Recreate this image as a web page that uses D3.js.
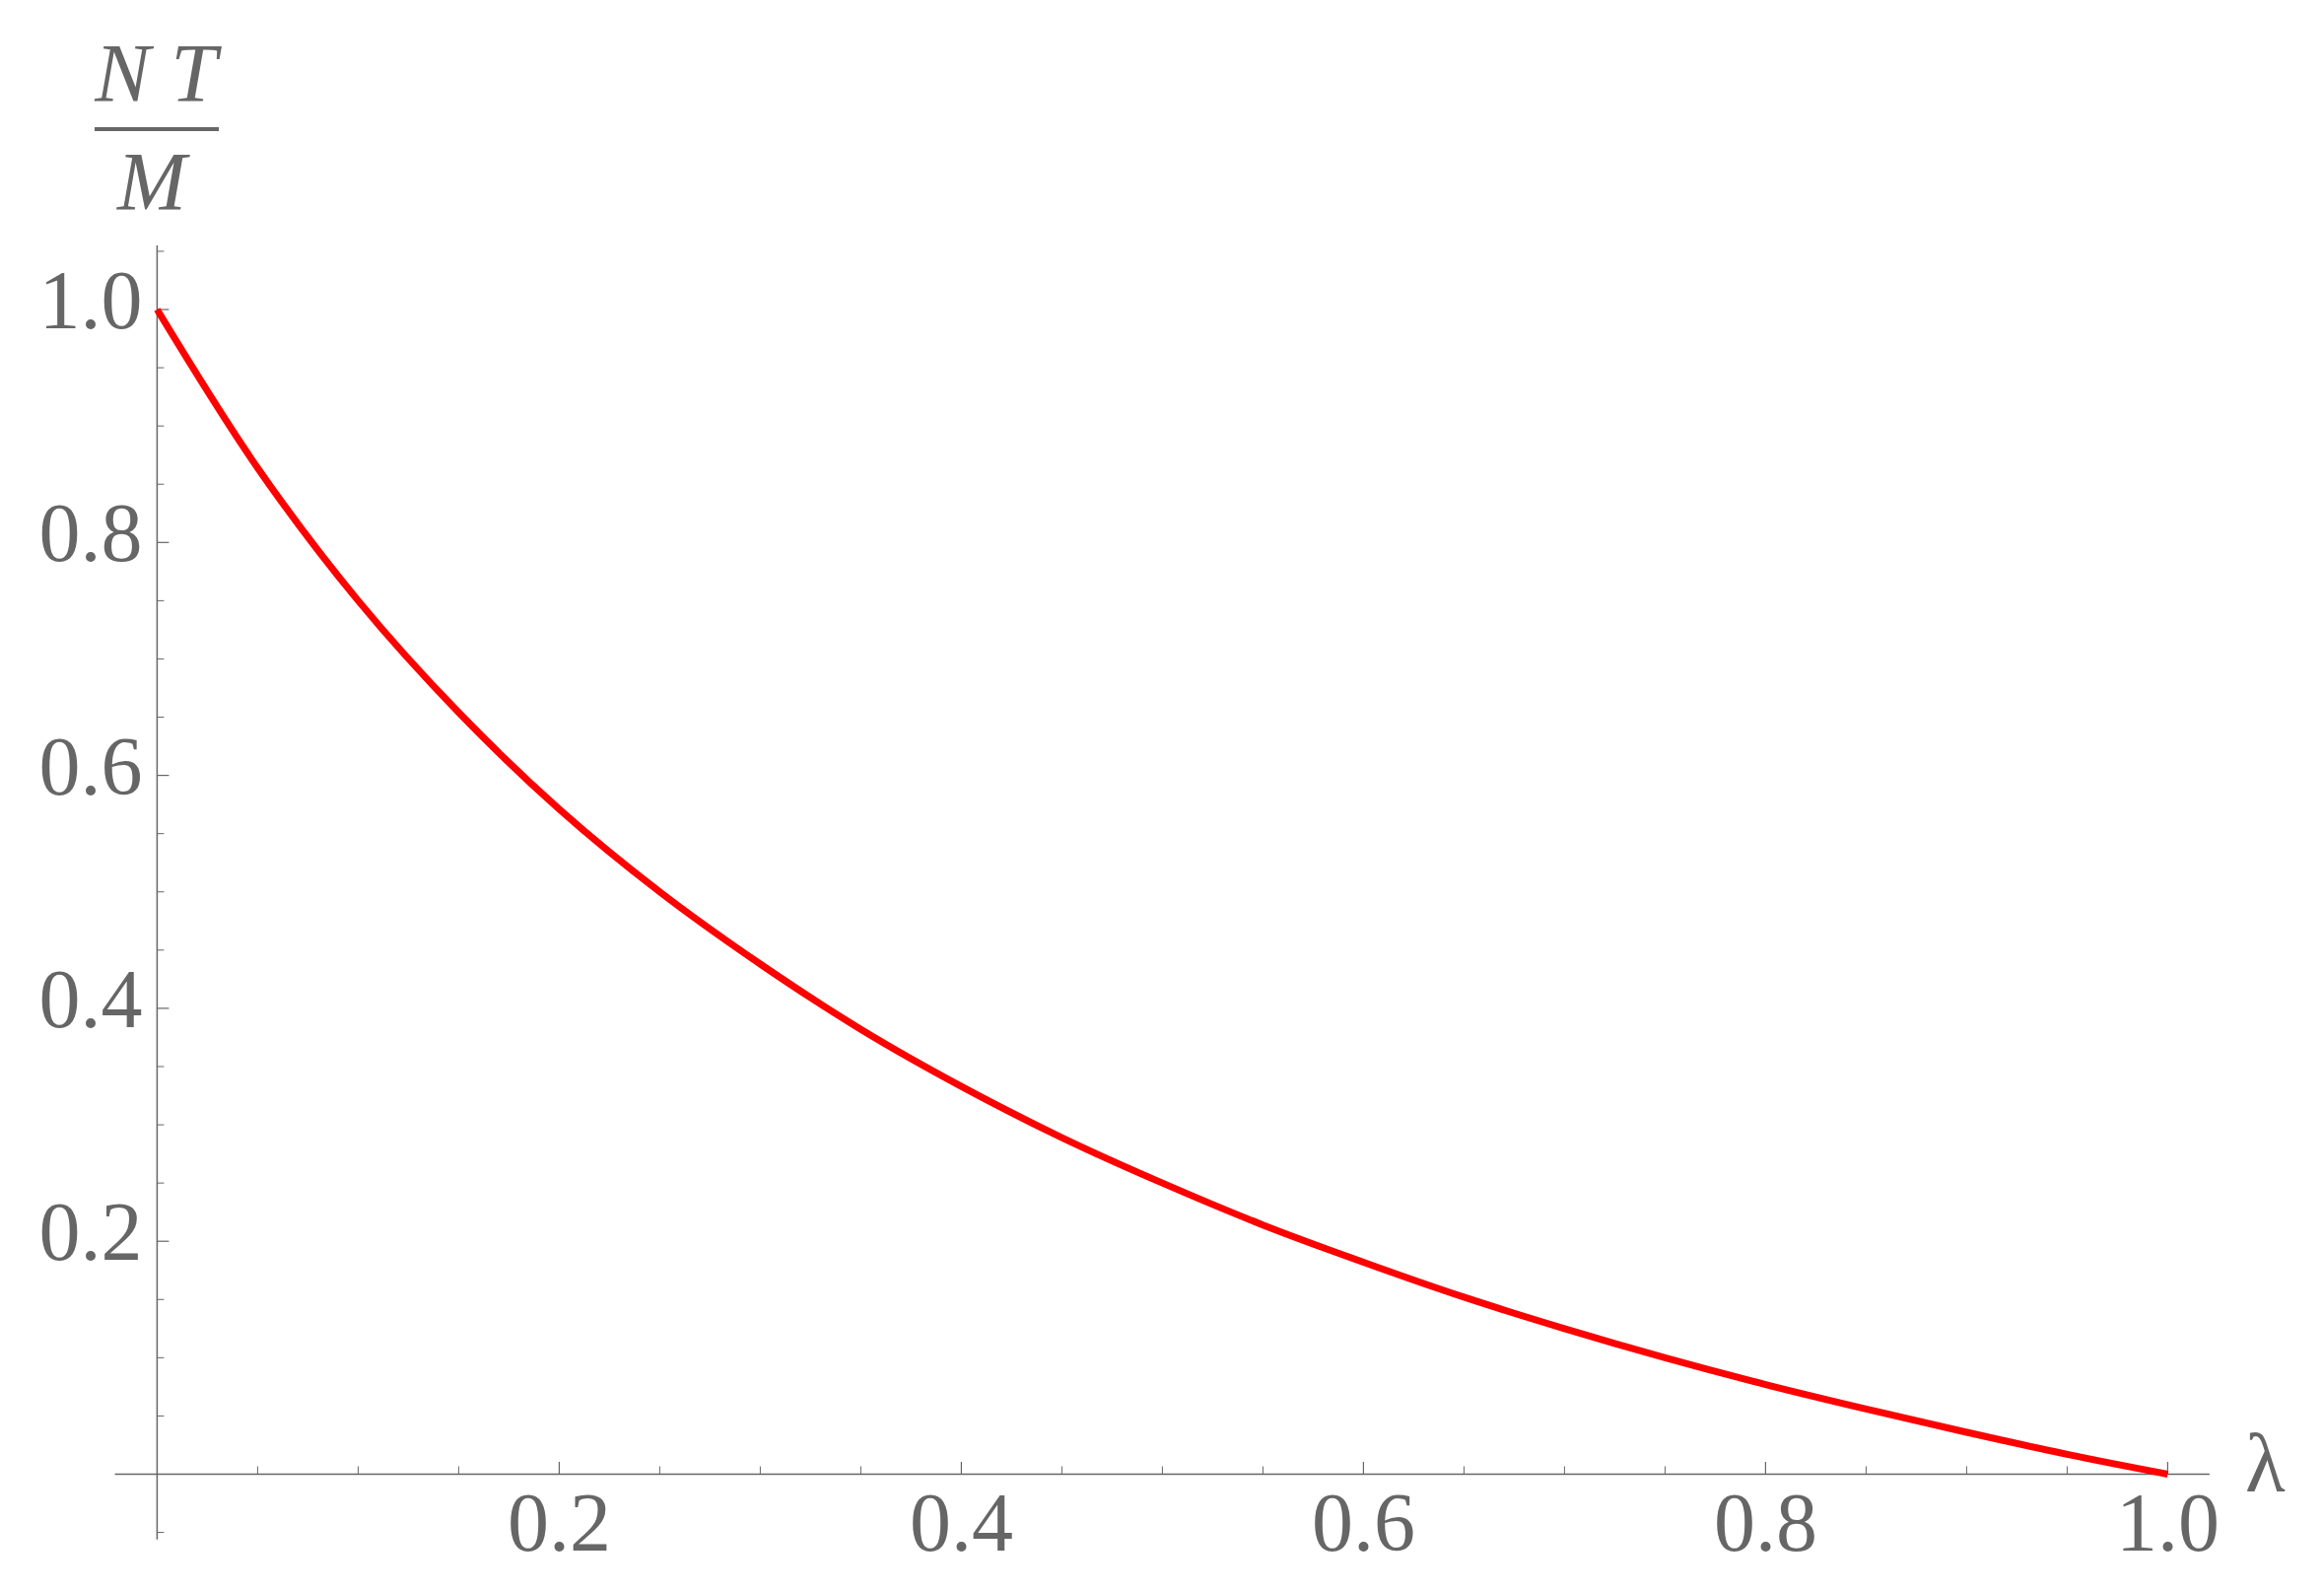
<!DOCTYPE html>
<html>
<head>
<meta charset="utf-8">
<script src="https://cdn.jsdelivr.net/npm/d3@7"></script>
<style>
  html, body { margin: 0; padding: 0; background: #ffffff; }
  svg { display: block; }
</style>
</head>
<body>
<script>
// ---- data ----
const lambdaValues = [0, 0.05, 0.1, 0.15, 0.2, 0.25, 0.3, 0.35, 0.4, 0.45, 0.5,
                      0.55, 0.6, 0.65, 0.7, 0.75, 0.8, 0.85, 0.9, 0.95, 1.0];
const ntOverM = [1.0, 0.864, 0.75, 0.654, 0.571, 0.5, 0.438, 0.382, 0.333, 0.289, 0.25,
                 0.214, 0.182, 0.152, 0.125, 0.1, 0.077, 0.056, 0.036, 0.017, 0.0];
const xMajorTicks = [0.2, 0.4, 0.6, 0.8, 1.0];
const yMajorTicks = [0.2, 0.4, 0.6, 0.8, 1.0];
const xMinorTicks = [0.05, 0.1, 0.15, 0.25, 0.3, 0.35, 0.45, 0.5, 0.55, 0.65, 0.7, 0.75, 0.85, 0.9, 0.95];
const yMinorTicks = [-0.05, 0.05, 0.1, 0.15, 0.25, 0.3, 0.35, 0.45, 0.5, 0.55, 0.65, 0.7, 0.75, 0.85, 0.9, 0.95, 1.05];
const xTickLabels = ["0.2", "0.4", "0.6", "0.8", "1.0"];
const yTickLabels = ["0.2", "0.4", "0.6", "0.8", "1.0"];
const xAxisLabel = "λ";
const yLabelNum = "N T";
const yLabelDen = "M";

// ---- layout ----
const W = 2358, H = 1614;
const gray = "#666666";
const font = "'Liberation Serif', 'Times New Roman', Times, serif";
const fs = 84;

const x = d3.scaleLinear().domain([0, 1]).range([159.4, 2199.4]);
const y = d3.scaleLinear().domain([0, 1]).range([1495.5, 314]);

const svg = d3.select("body").append("svg")
  .attr("width", W).attr("height", H);

// axis lines
svg.append("line")
  .attr("x1", x(-0.021)).attr("x2", x(1.0208))
  .attr("y1", y(0)).attr("y2", y(0))
  .attr("stroke", gray).attr("stroke-width", 1.5);
svg.append("line")
  .attr("x1", x(0)).attr("x2", x(0))
  .attr("y1", y(-0.056)).attr("y2", y(1.055))
  .attr("stroke", gray).attr("stroke-width", 1.5);

// x ticks (pointing up into plot)
svg.append("g").selectAll("line").data(xMajorTicks).join("line")
  .attr("x1", d => x(d)).attr("x2", d => x(d))
  .attr("y1", y(0)).attr("y2", y(0) - 12.5)
  .attr("stroke", gray).attr("stroke-width", 1.2);
svg.append("g").selectAll("line").data(xMinorTicks).join("line")
  .attr("x1", d => x(d)).attr("x2", d => x(d))
  .attr("y1", y(0)).attr("y2", y(0) - 8)
  .attr("stroke", gray).attr("stroke-width", 1.0);

// y ticks (pointing right into plot)
svg.append("g").selectAll("line").data(yMajorTicks).join("line")
  .attr("x1", x(0)).attr("x2", x(0) + 12)
  .attr("y1", d => y(d)).attr("y2", d => y(d))
  .attr("stroke", gray).attr("stroke-width", 1.2);
svg.append("g").selectAll("line").data(yMinorTicks).join("line")
  .attr("x1", x(0)).attr("x2", x(0) + 7)
  .attr("y1", d => y(d)).attr("y2", d => y(d))
  .attr("stroke", gray).attr("stroke-width", 1.0);

// tick labels
svg.append("g").selectAll("text").data(xMajorTicks).join("text")
  .attr("x", d => x(d)).attr("y", y(0) + 77)
  .attr("text-anchor", "middle")
  .attr("font-family", font).attr("font-size", fs).attr("fill", gray)
  .text((d, i) => xTickLabels[i]);
svg.append("g").selectAll("text").data(yMajorTicks).join("text")
  .attr("x", x(0) - 15).attr("y", d => y(d) + 19)
  .attr("text-anchor", "end")
  .attr("font-family", font).attr("font-size", fs).attr("fill", gray)
  .text((d, i) => yTickLabels[i]);

// axis labels
svg.append("text")
  .attr("x", 2278).attr("y", 1513)
  .attr("font-family", font).attr("font-size", fs).attr("fill", gray)
  .text(xAxisLabel);

svg.append("text")
  .attr("x", 158).attr("y", 103)
  .attr("text-anchor", "middle")
  .attr("font-family", font).attr("font-style", "italic")
  .attr("font-size", fs).attr("fill", gray)
  .attr("xml:space", "preserve")
  .text(yLabelNum);
svg.append("rect")
  .attr("x", 96).attr("y", 129).attr("width", 126).attr("height", 4)
  .attr("fill", gray);
svg.append("text")
  .attr("x", 154).attr("y", 213)
  .attr("text-anchor", "middle")
  .attr("font-family", font).attr("font-style", "italic")
  .attr("font-size", fs).attr("fill", gray)
  .text(yLabelDen);

// curve
const pts = lambdaValues.map((l, i) => [l, ntOverM[i]]);
const line = d3.line()
  .x(d => x(d[0])).y(d => y(d[1]))
  .curve(d3.curveCatmullRom.alpha(0.5));
svg.append("path")
  .datum(pts)
  .attr("d", line)
  .attr("fill", "none")
  .attr("stroke", "#ff0000")
  .attr("stroke-width", 7);
</script>
</body>
</html>
